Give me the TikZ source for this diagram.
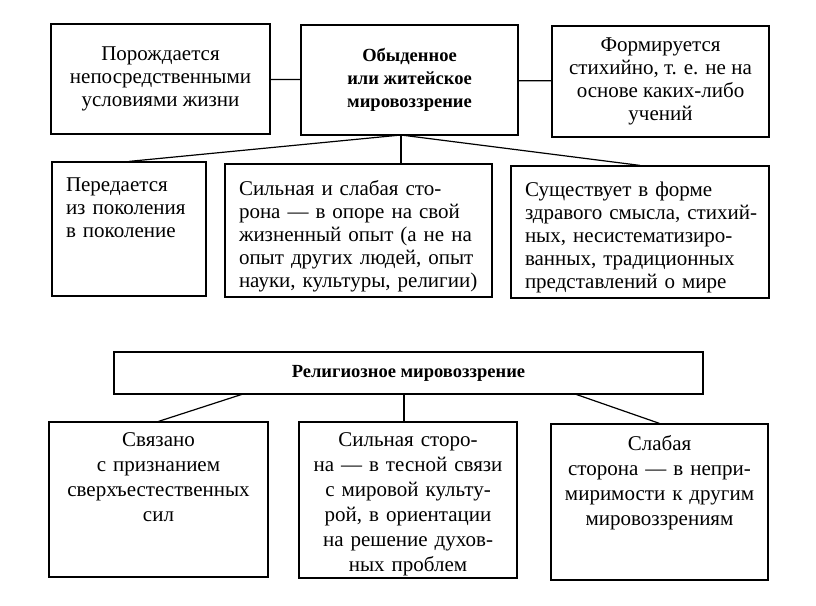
\documentclass[tikz,border=0pt]{standalone}
\usepackage{fontspec}
\setmainfont{Liberation Serif}

\begin{document}
\begin{tikzpicture}[x=1pt, y=-1pt, line width=1.2pt,
    box/.style={draw, inner sep=0pt},
    txt/.style={inner sep=0pt, align=center, font=\fontsize{21}{23}\selectfont},
    txtb/.style={inner sep=0pt, align=center, font=\fontsize{18.5}{23}\selectfont\bfseries},
    txtl/.style={inner sep=0pt, align=left, anchor=north west, xshift=14, yshift=-16, font=\fontsize{21}{23}\selectfont},
    txtc/.style={inner sep=0pt, align=center, anchor=north, yshift=-11, font=\fontsize{21}{25}\selectfont}]
    \useasboundingbox (0,0) rectangle (816,605);
    % first block
    \node[box, txt, minimum width=219, minimum height=110] (A) at (160.5,79) {Порождается\\непосредственными\\условиями жизни};
    \node[box, txtb, minimum width=217, minimum height=110] (B) at (409.5,80) {Обыденное\\или житейское\\мировоззрение};
    \node[box, txt, minimum width=217, minimum height=111] (C) at (660.5,81.5) {Формируется\\стихийно, т. е. не на\\основе каких-либо\\учений};
    \node[box, minimum width=154, minimum height=134] (D) at (129,229) {};
    \node[box, minimum width=267, minimum height=133] (E) at (358.5,230.5) {};
    \node[box, minimum width=258, minimum height=132] (F) at (640,232) {};
    \node[txtl, text width=136] (Dt) at (D.north west) {Передается\\из поколения\\в поколение};
    \node[txtl, text width=250] (Et) at (E.north west) {Сильная и слабая сто-\\рона — в опоре на свой\\жизненный опыт (а не на\\опыт других людей, опыт\\науки, культуры, религии)};
    \node[txtl, text width=242] (Ft) at (F.north west) {Существует в форме\\здравого смысла, стихий-\\ных, несистематизиро-\\ванных, традиционных\\представлений о мире};
    % second block
    \node[box, txtb, minimum width=589, minimum height=42] (R) at (408.5,373) {Религиозное мировоззрение};
    \node[box, minimum width=219, minimum height=155] (G) at (158.5,499.5) {};
    \node[box, minimum width=218, minimum height=156] (H) at (408,500) {};
    \node[box, minimum width=217, minimum height=156] (I) at (659.5,502) {};
    \node[txtc, text width=199] (Gt) at (G.north) {Связано\\с признанием\\сверхъестественных\\сил};
    \node[txtc, text width=198] (Ht) at (H.north) {Сильная сторо-\\на — в тесной связи\\с мировой культу-\\рой, в ориентации\\на решение духов-\\ных проблем};
    \node[txtc, text width=197] (It) at (I.north) {Слабая\\сторона — в непри-\\миримости к другим\\мировоззрениям};
    % foot points of the connectors
    \coordinate (bfoot) at (401,135);
    \coordinate (rl) at (243,394);
    \coordinate (rm) at (404,394);
    \coordinate (rr) at (575,394);
    % horizontal lines
    \draw (A) -- (B);
    \draw (B) -- (C);
    % lines down
    \draw (bfoot) -- (D.north);
    \draw (bfoot) -- (bfoot |- E.north);
    \draw (bfoot) -- (F.north);
    \draw (rl) -- (G.north);
    \draw (rm) -- (rm |- H.north);
    \draw (rr) -- (I.north);
\end{tikzpicture}
\end{document}
